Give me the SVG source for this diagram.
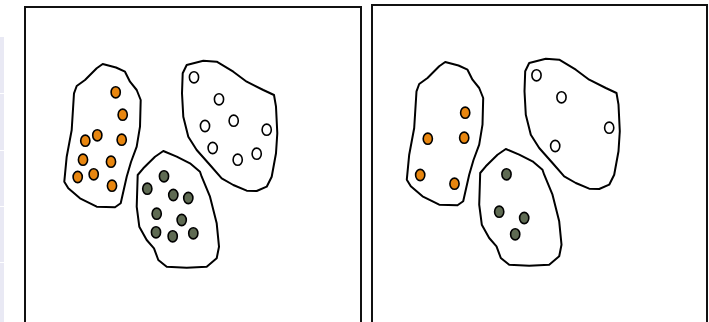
<svg xmlns="http://www.w3.org/2000/svg" width="709" height="322" viewBox="0 0 709 322">
<style>
.frame{fill:#fff;stroke:#111;stroke-width:2}
.blob{fill:#fff;stroke:#000;stroke-width:2;stroke-linejoin:round}
.dot{stroke:#000;stroke-width:1.6}
.o{fill:#e8860f}
.g{fill:#5f6b53}
.w{fill:#fff}
.strip{fill:#e9e9f4}
.sep{stroke:#fff;stroke-width:1}
</style>
<rect width="709" height="322" fill="#fff"/>
<g id="strip">
<rect class="strip" x="0" y="37" width="4" height="285"/>
<line class="sep" x1="0" y1="93.5" x2="4" y2="93.5"/>
<line class="sep" x1="0" y1="150.5" x2="4" y2="150.5"/>
<line class="sep" x1="0" y1="206.5" x2="4" y2="206.5"/>
<line class="sep" x1="0" y1="262.5" x2="4" y2="262.5"/>
</g>
<g id="panel-left">
<rect class="frame" x="25" y="7" width="336" height="330"/>
</g>
<g id="panel-right">
<rect class="frame" x="372" y="5" width="335" height="330"/>
</g>
<g id="left-orange">
<path class="blob" d="M102.7,64 L116,67.5 L125,71.7 L130,81.7 L136.7,90 L140.7,100 L140,126.7 L136.7,146.7 L131,162 L126.7,176.7 L120.7,203.3 L115,207.3 L96.7,206.7 L80,198.3 L68.3,188.3 L64.3,181.7 L66.7,156.7 L71.7,130 L74,93.3 L76.7,86 L85,80 L96.7,68.3 Z"/>
<ellipse class="dot o" cx="115.7" cy="92.3" rx="4.6" ry="5.6"/>
<ellipse class="dot o" cx="122.7" cy="114.7" rx="4.6" ry="5.6"/>
<ellipse class="dot o" cx="121.7" cy="139.7" rx="4.6" ry="5.6"/>
<ellipse class="dot o" cx="97.3" cy="135.3" rx="4.6" ry="5.6"/>
<ellipse class="dot o" cx="85.3" cy="140.7" rx="4.6" ry="5.6"/>
<ellipse class="dot o" cx="83" cy="159.7" rx="4.6" ry="5.6"/>
<ellipse class="dot o" cx="111" cy="161.7" rx="4.6" ry="5.6"/>
<ellipse class="dot o" cx="77.7" cy="177" rx="4.6" ry="5.6"/>
<ellipse class="dot o" cx="93.7" cy="174.3" rx="4.6" ry="5.6"/>
<ellipse class="dot o" cx="112" cy="185.7" rx="4.6" ry="5.6"/>
</g>
<g id="left-white">
<path class="blob" d="M203.3,60.7 L216.7,61.7 L233.3,71.7 L246.7,81.7 L263.3,90 L274,95 L276,106.7 L277.3,133.3 L276,153.3 L271.7,176.7 L266.7,186.7 L256.7,191 L246.7,190.7 L233.3,185 L221.7,178.3 L210,165 L196.7,150 L188.3,136.7 L183.3,116.7 L182,93.3 L182.7,73.3 L186.7,65 Z"/>
<ellipse class="dot w" cx="194" cy="77.3" rx="4.6" ry="5.6"/>
<ellipse class="dot w" cx="219" cy="99.3" rx="4.6" ry="5.6"/>
<ellipse class="dot w" cx="233.7" cy="120.7" rx="4.6" ry="5.6"/>
<ellipse class="dot w" cx="205" cy="126" rx="4.6" ry="5.6"/>
<ellipse class="dot w" cx="266.7" cy="129.7" rx="4.6" ry="5.6"/>
<ellipse class="dot w" cx="212.7" cy="148" rx="4.6" ry="5.6"/>
<ellipse class="dot w" cx="256.7" cy="153.7" rx="4.6" ry="5.6"/>
<ellipse class="dot w" cx="237.7" cy="159.7" rx="4.6" ry="5.6"/>
</g>
<g id="left-green">
<path class="blob" d="M163.3,151 L176.7,156.7 L190,163.3 L200,171.7 L201.7,176.7 L210,196.7 L216.7,223.3 L219,246.7 L216.7,258.3 L206.7,266.7 L186.7,267.7 L166.7,266.7 L158.3,260 L154,248.3 L146.7,240 L139.3,226.7 L136.7,206.7 L137.7,175 L143.3,168.3 L155,156.7 Z"/>
<ellipse class="dot g" cx="147.3" cy="188.7" rx="4.6" ry="5.6"/>
<ellipse class="dot g" cx="164" cy="176.3" rx="4.6" ry="5.6"/>
<ellipse class="dot g" cx="173.3" cy="195" rx="4.6" ry="5.6"/>
<ellipse class="dot g" cx="188.3" cy="198" rx="4.6" ry="5.6"/>
<ellipse class="dot g" cx="156.7" cy="213.7" rx="4.6" ry="5.6"/>
<ellipse class="dot g" cx="181.7" cy="220" rx="4.6" ry="5.6"/>
<ellipse class="dot g" cx="156" cy="232.3" rx="4.6" ry="5.6"/>
<ellipse class="dot g" cx="172.7" cy="236.3" rx="4.6" ry="5.6"/>
<ellipse class="dot g" cx="193.3" cy="233.3" rx="4.6" ry="5.6"/>
</g>
<g id="right-orange" transform="translate(342.5,-2)">
<path class="blob" d="M102.7,64 L116,67.5 L125,71.7 L130,81.7 L136.7,90 L140.7,100 L140,126.7 L136.7,146.7 L131,162 L126.7,176.7 L120.7,203.3 L115,207.3 L96.7,206.7 L80,198.3 L68.3,188.3 L64.3,181.7 L66.7,156.7 L71.7,130 L74,93.3 L76.7,86 L85,80 L96.7,68.3 Z"/>
<ellipse class="dot o" cx="122.7" cy="114.7" rx="4.6" ry="5.6"/>
<ellipse class="dot o" cx="121.7" cy="139.7" rx="4.6" ry="5.6"/>
<ellipse class="dot o" cx="85.3" cy="140.7" rx="4.6" ry="5.6"/>
<ellipse class="dot o" cx="77.7" cy="177" rx="4.6" ry="5.6"/>
<ellipse class="dot o" cx="112" cy="185.7" rx="4.6" ry="5.6"/>
</g>
<g id="right-white" transform="translate(342.5,-2)">
<path class="blob" d="M203.3,60.7 L216.7,61.7 L233.3,71.7 L246.7,81.7 L263.3,90 L274,95 L276,106.7 L277.3,133.3 L276,153.3 L271.7,176.7 L266.7,186.7 L256.7,191 L246.7,190.7 L233.3,185 L221.7,178.3 L210,165 L196.7,150 L188.3,136.7 L183.3,116.7 L182,93.3 L182.7,73.3 L186.7,65 Z"/>
<ellipse class="dot w" cx="194" cy="77.3" rx="4.6" ry="5.6"/>
<ellipse class="dot w" cx="219" cy="99.3" rx="4.6" ry="5.6"/>
<ellipse class="dot w" cx="266.7" cy="129.7" rx="4.6" ry="5.6"/>
<ellipse class="dot w" cx="212.7" cy="148" rx="4.6" ry="5.6"/>
</g>
<g id="right-green" transform="translate(342.5,-2)">
<path class="blob" d="M163.3,151 L176.7,156.7 L190,163.3 L200,171.7 L201.7,176.7 L210,196.7 L216.7,223.3 L219,246.7 L216.7,258.3 L206.7,266.7 L186.7,267.7 L166.7,266.7 L158.3,260 L154,248.3 L146.7,240 L139.3,226.7 L136.7,206.7 L137.7,175 L143.3,168.3 L155,156.7 Z"/>
<ellipse class="dot g" cx="164" cy="176.3" rx="4.6" ry="5.6"/>
<ellipse class="dot g" cx="156.7" cy="213.7" rx="4.6" ry="5.6"/>
<ellipse class="dot g" cx="181.7" cy="220" rx="4.6" ry="5.6"/>
<ellipse class="dot g" cx="172.7" cy="236.3" rx="4.6" ry="5.6"/>
</g>
<g id="connectors"></g>
</svg>
